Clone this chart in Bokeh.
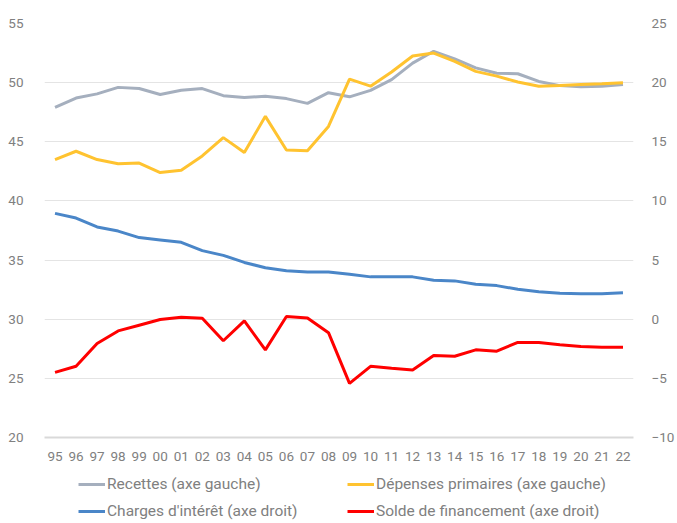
from bokeh.plotting import figure
from bokeh.models import Range1d, LinearAxis, Legend, LegendItem, FixedTicker
from bokeh.layouts import column
from bokeh.embed import file_html
from bokeh.resources import INLINE

years = ["95", "96", "97", "98", "99", "00", "01", "02", "03", "04", "05", "06", "07", "08",
         "09", "10", "11", "12", "13", "14", "15", "16", "17", "18", "19", "20", "21", "22"]

recettes = [47.9, 48.7, 49.05, 49.6, 49.5, 49.0, 49.35, 49.5, 48.9, 48.75, 48.85, 48.65, 48.25, 49.15,
            48.8, 49.35, 50.25, 51.65, 52.65, 52.0, 51.25, 50.8, 50.75, 50.1, 49.75, 49.65, 49.7, 49.85]

depenses = [43.5, 44.2, 43.5, 43.15, 43.2, 42.4, 42.6, 43.8, 45.35, 44.1, 47.15, 44.3, 44.25, 46.3,
            50.3, 49.7, 50.9, 52.25, 52.5, 51.8, 50.95, 50.55, 50.05, 49.7, 49.75, 49.85, 49.9, 50.0]

charges = [8.95, 8.55, 7.8, 7.45, 6.9, 6.7, 6.5, 5.8, 5.4, 4.8, 4.35, 4.1, 4.0, 4.0,
           3.8, 3.58, 3.58, 3.58, 3.3, 3.24, 2.95, 2.84, 2.53, 2.33, 2.19, 2.16, 2.16, 2.24]

solde = [-4.49, -3.98, -2.05, -0.99, -0.51, -0.03, 0.17, 0.09, -1.82, -0.14, -2.59, 0.23, 0.11, -1.14,
         -5.43, -3.98, -4.15, -4.29, -3.07, -3.13, -2.59, -2.7, -1.96, -1.96, -2.16, -2.3, -2.36, -2.36]

left_ticks = [20, 25, 30, 35, 40, 45, 50, 55]
right_ticks = [-10, -5, 0, 5, 10, 15, 20, 25]

names = ["Recettes (axe gauche)", "Dépenses primaires (axe gauche)",
         "Charges d'intérêt (axe droit)", "Solde de financement (axe droit)"]
colors = ["#A5AFBE", "#FFC330", "#4A86C8", "#FF0000"]
series = [recettes, depenses, charges, solde]

FONT = "Roboto"
TXT = "#808080"

# ---------------- main chart ----------------
p = figure(x_range=years, y_range=Range1d(20, 55),
           width=677, height=470,
           min_border_left=44, min_border_top=23, min_border_right=40, min_border_bottom=33,
           output_backend="svg", toolbar_location=None)
p.extra_y_ranges = {"right": Range1d(-10, 25)}

p.outline_line_color = None
p.xgrid.grid_line_color = None
p.ygrid.grid_line_color = "#E4E4E4"
p.ygrid.grid_line_width = 1
p.ygrid.ticker = FixedTicker(ticks=left_ticks)

p.yaxis.ticker = FixedTicker(ticks=left_ticks)
p.yaxis.axis_line_color = None
p.yaxis.major_tick_line_color = None
p.yaxis.minor_tick_line_color = None
p.yaxis.major_label_standoff = 15
p.yaxis.major_label_text_font = FONT
p.yaxis.major_label_text_font_size = "13.5px"
p.yaxis.major_label_text_color = TXT

ra = LinearAxis(y_range_name="right", ticker=FixedTicker(ticks=right_ticks))
ra.axis_line_color = None
ra.major_tick_line_color = None
ra.minor_tick_line_color = None
ra.major_label_standoff = 12
ra.major_label_text_font = FONT
ra.major_label_text_font_size = "13.5px"
ra.major_label_text_color = TXT
p.add_layout(ra, "right")

p.xaxis.axis_line_color = "#D9D9D9"
p.xaxis.axis_line_width = 2
p.xaxis.major_tick_line_color = None
p.xaxis.minor_tick_line_color = None
p.xaxis.major_label_standoff = 8
p.xaxis.major_label_text_font = FONT
p.xaxis.major_label_text_font_size = "13.5px"
p.xaxis.major_label_text_color = TXT

p.line(years, recettes, line_color=colors[0], line_width=3)
p.line(years, depenses, line_color=colors[1], line_width=3)
p.line(years, charges, line_color=colors[2], line_width=3, y_range_name="right")
p.line(years, solde, line_color=colors[3], line_width=3, y_range_name="right")

# ---------------- legend strip ----------------
# the key lines reuse the series but lie outside this strip's visible range,
# so only their legend samples are seen
lg = figure(width=677, height=53, x_range=years, y_range=Range1d(100, 101),
            x_axis_location=None, y_axis_location=None,
            min_border_left=0, min_border_right=0, min_border_top=0, min_border_bottom=0,
            output_backend="svg", toolbar_location=None)
lg.outline_line_color = None
lg.xgrid.grid_line_color = None
lg.ygrid.grid_line_color = None

keys = [lg.line(years, s, line_color=c, line_width=3) for s, c in zip(series, colors)]


def make_legend(idx, loc):
    return Legend(items=[LegendItem(label=names[i], renderers=[keys[i]]) for i in idx],
                  orientation="horizontal", location=loc,
                  label_text_font=FONT, label_text_font_size="15.5px", label_text_color=TXT,
                  glyph_width=27, glyph_height=20, label_standoff=2, label_height=20,
                  label_width=240, spacing=0, padding=0, margin=0,
                  border_line_color=None, background_fill_alpha=0)


lg.add_layout(make_legend([0, 1], (34, 29)), "center")
lg.add_layout(make_legend([2, 3], (34, 2)), "center")

open("out.html", "w").write(file_html(column(p, lg), INLINE))
